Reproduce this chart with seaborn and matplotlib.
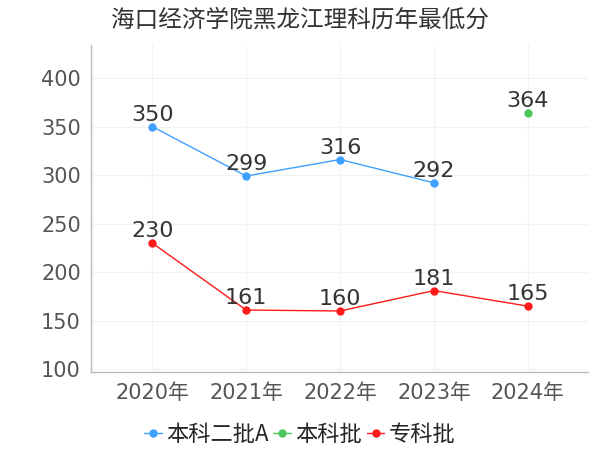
import matplotlib
matplotlib.use("Agg")
import matplotlib.pyplot as plt
import numpy as np
import pandas as pd
import seaborn as sns

years = ["2020年", "2021年", "2022年", "2023年", "2024年"]
series_names = ["本科二批A", "本科批", "专科批"]
erpi_a = [350, 299, 316, 292, np.nan]
benke = [np.nan, np.nan, np.nan, np.nan, 364]
zhuanke = [230, 161, 160, 181, 165]
colors = ["#3ea0ff", "#4cc85a", "#ff1a1a"]

rows = []
for name, values in zip(series_names, [erpi_a, benke, zhuanke]):
    for i, v in enumerate(values):
        if not np.isnan(v):
            rows.append({"pos": i, "score": v, "batch": name})
df = pd.DataFrame(rows)

sns.set_theme(style="white")
plt.rcParams["font.family"] = ["DejaVu Sans", "Noto Sans CJK SC"]

fig = plt.figure(figsize=(6, 4.5), dpi=100)
ax = fig.add_axes([0.152, 0.173, 0.828, 0.727])

sns.lineplot(data=df, x="pos", y="score", hue="batch", hue_order=series_names,
             palette=colors, marker="o", markersize=6, markeredgewidth=0,
             linewidth=1, ax=ax)

for _, r in df.iterrows():
    ax.text(r["pos"], r["score"] + 2, f"{int(r['score'])}", ha="center",
            va="bottom", fontsize=16, color="#333333")

ax.set_xlim(-0.65, 4.64)
ax.set_ylim(97, 434)
ax.set_yticks([100, 150, 200, 250, 300, 350, 400])
ax.set_xticks(range(len(years)))
ax.set_xticklabels(years)
ax.tick_params(axis="both", labelsize=15, colors="#555555", length=4,
               width=0.8, color="#bbbbbb")
ax.set_xlabel("")
ax.set_ylabel("")
ax.grid(True, color="#f2f2f2", linewidth=0.8)
for side in ["top", "right"]:
    ax.spines[side].set_visible(False)
for side in ["left", "bottom"]:
    ax.spines[side].set_color("#bbbbbb")
    ax.spines[side].set_linewidth(1)

fig.suptitle("海口经济学院黑龙江理科历年最低分", x=0.5, y=0.98, fontsize=17,
             color="#333333", family=["Noto Sans CJK SC", "DejaVu Sans"])

handles, labels = ax.get_legend_handles_labels()
ax.legend(handles, labels, loc="center", bbox_to_anchor=(0.42, -0.19),
          ncol=3, frameon=False, handlelength=0.8,
          handletextpad=0.2, columnspacing=0.2,
          prop={"family": ["Noto Sans CJK SC", "DejaVu Sans"], "size": 16})

fig.savefig("out.png", dpi=100)
